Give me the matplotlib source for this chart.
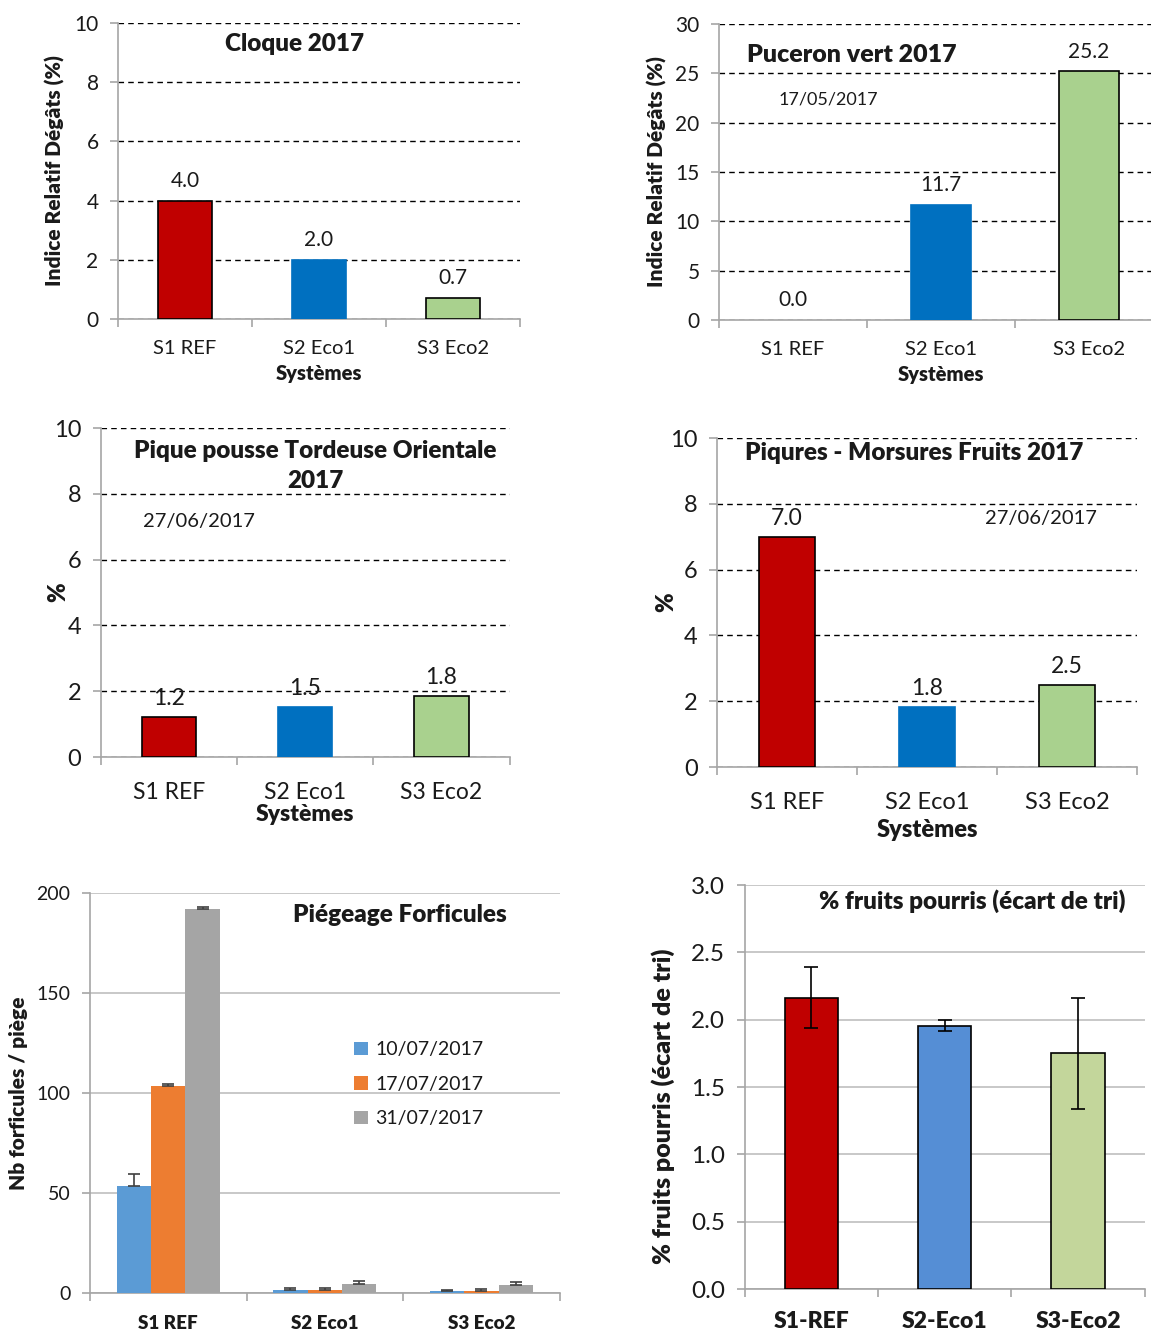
import numpy as np
import matplotlib.pyplot as plt

plt.rcParams['font.family'] = ['Lato', 'DejaVu Sans']

# --- data ---
systemes = ['S1 REF', 'S2 Eco1', 'S3 Eco2']
systemes_tirets = ['S1-REF', 'S2-Eco1', 'S3-Eco2']

cloque = [4.0, 2.0, 0.71]
puceron = [0.0, 11.7, 25.2]
pique_pousse = [1.22, 1.52, 1.84]
morsures = [6.99, 1.82, 2.49]

dates_forf = ['10/07/2017', '17/07/2017', '31/07/2017']
forf_10 = [53.5, 1.5, 1.0]
forf_10_err = [6.0, 1.0, 0.5]
forf_17 = [103.5, 1.5, 1.0]
forf_17_err = [1.0, 1.0, 1.0]
forf_31 = [192.0, 4.5, 4.0]
forf_31_err = [1.0, 1.5, 1.5]

pourris = [2.165, 1.955, 1.75]
pourris_err = [0.225, 0.04, 0.41]

rouge = '#C00000'
bleu = '#0070C0'
vert = '#A9D18E'
gris_axe = '#A6A6A6'
txt = '#1a1a1a'
GRAS = 'heavy'

fig = plt.figure(figsize=(11.51, 13.33), dpi=100)


def style_axes(ax, ymax, ystep, ytick_fs, xtick_fs, xpad, dashed=True):
    ax.set_xlim(-0.5, 2.5)
    ax.set_ylim(0, ymax)
    ax.set_yticks(np.arange(0, ymax + ystep / 2, ystep))
    for s in ['top', 'right']:
        ax.spines[s].set_visible(False)
    for s in ['left', 'bottom']:
        ax.spines[s].set_color(gris_axe)
        ax.spines[s].set_linewidth(1.2)
    ax.set_xticks([-0.5, 0.5, 1.5, 2.5])
    ax.set_xticklabels([])
    ax.set_xticks([0, 1, 2], minor=True)
    ax.tick_params(axis='x', which='major', length=6, color=gris_axe, width=1.2)
    ax.tick_params(axis='x', which='minor', length=0, labelsize=xtick_fs, colors=txt, pad=xpad)
    ax.tick_params(axis='y', length=6, color=gris_axe, width=1.2, labelsize=ytick_fs,
                   labelcolor=txt, pad=8)
    if dashed:
        ax.yaxis.grid(True, color='black', linestyle=(0, (4, 3)), linewidth=1.0)
    else:
        ax.yaxis.grid(True, color='#BFBFBF', linestyle='-', linewidth=1.2)
    ax.set_axisbelow(True)
    ax.patch.set_visible(False)


def value_labels(ax, vals, fs, off):
    for i, v in enumerate(vals):
        ax.annotate(f'{v:.1f}', (i, v), xytext=(0, off), textcoords='offset points',
                    ha='center', va='bottom', fontsize=fs, color=txt)


def ylabel_at(ax, text, fs, xpos, ypos=0.5):
    ax.set_ylabel(text, fontsize=fs, fontweight=GRAS, color=txt)
    ax.yaxis.label.set_va('center')
    ax.yaxis.set_label_coords(xpos, ypos)


cols3 = [rouge, bleu, vert]
edges3 = ['black', bleu, 'black']

# --- Cloque ---
ax1 = fig.add_axes([0.1025, 0.7607, 0.349, 0.222])
style_axes(ax1, 10, 2, 15, 14.5, 15)
ax1.bar(range(3), cloque, width=0.40, color=cols3, edgecolor=edges3, linewidth=1.2, zorder=3)
ax1.set_xticklabels(systemes, minor=True)
value_labels(ax1, cloque, 15, 7)
ax1.set_xlabel('Systèmes', fontsize=14.5, fontweight=GRAS, color=txt, labelpad=5)
ylabel_at(ax1, 'Indice Relatif Dégâts (%)', 15, -0.157)
ax1.text(0.44, 0.93, 'Cloque 2017', transform=ax1.transAxes, ha='center', va='center',
         fontsize=17.5, fontweight=GRAS, color=txt)

# --- Puceron vert ---
ax2 = fig.add_axes([0.6247, 0.76, 0.3857, 0.222])
style_axes(ax2, 30, 5, 15, 14.5, 15)
ax2.bar(range(3), puceron, width=0.41, color=cols3, edgecolor=edges3,
        linewidth=[1.2 if v > 0 else 0 for v in puceron], zorder=3)
ax2.set_xticklabels(systemes, minor=True)
value_labels(ax2, puceron, 15, 7)
ax2.set_xlabel('Systèmes', fontsize=14.5, fontweight=GRAS, color=txt, labelpad=5)
ylabel_at(ax2, 'Indice Relatif Dégâts (%)', 15, -0.14)
ax2.text(0.30, 0.895, 'Puceron vert 2017', transform=ax2.transAxes, ha='center', va='center',
         fontsize=18, fontweight=GRAS, color=txt)
ax2.text(0.246, 0.746, '17/05/2017', transform=ax2.transAxes, ha='center', va='center',
         fontsize=13, color=txt)

# --- Pique pousse ---
ax3 = fig.add_axes([0.0877, 0.4321, 0.355, 0.2468])
style_axes(ax3, 10, 2, 17, 16.5, 18)
ax3.bar(range(3), pique_pousse, width=0.40, color=cols3, edgecolor=edges3, linewidth=1.2, zorder=3)
ax3.set_xticklabels(systemes, minor=True)
value_labels(ax3, pique_pousse, 16.5, 6)
ax3.set_xlabel('Systèmes', fontsize=16.5, fontweight=GRAS, color=txt, labelpad=1)
ylabel_at(ax3, '%', 17, -0.105)
ax3.text(0.525, 0.963, 'Pique pousse Tordeuse Orientale\n2017', transform=ax3.transAxes,
         ha='center', va='top', fontsize=17.5, fontweight=GRAS, color=txt, linespacing=1.45)
ax3.text(0.24, 0.715, '27/06/2017', transform=ax3.transAxes, ha='center', va='center',
         fontsize=14.5, color=txt)

# --- Piqures - Morsures ---
ax4 = fig.add_axes([0.623, 0.4246, 0.365, 0.2468])
style_axes(ax4, 10, 2, 17, 17, 18)
ax4.bar(range(3), morsures, width=0.40, color=cols3, edgecolor=edges3, linewidth=1.2, zorder=3)
ax4.set_xticklabels(systemes, minor=True)
value_labels(ax4, morsures, 16.5, 6)
ax4.set_xlabel('Systèmes', fontsize=17, fontweight=GRAS, color=txt, labelpad=4)
ylabel_at(ax4, '%', 17, -0.122)
ax4.text(0.47, 0.955, 'Piqures - Morsures Fruits 2017', transform=ax4.transAxes,
         ha='center', va='center', fontsize=17.5, fontweight=GRAS, color=txt)
ax4.text(0.77, 0.755, '27/06/2017', transform=ax4.transAxes, ha='center', va='center',
         fontsize=14.5, color=txt)

# --- Piegeage Forficules ---
ax5 = fig.add_axes([0.0782, 0.030, 0.408, 0.300])
style_axes(ax5, 200, 50, 14, 13.5, 16, dashed=False)
w = 0.22
x = np.arange(3)
series = [(forf_10, forf_10_err, '#5B9BD5'), (forf_17, forf_17_err, '#ED7D31'),
          (forf_31, forf_31_err, '#A5A5A5')]
for k, (vals, err, c) in enumerate(series):
    ax5.bar(x + (k - 1) * w, vals, width=w, color=c, label=dates_forf[k], zorder=3,
            yerr=[np.zeros(3), err], capsize=4,
            error_kw=dict(ecolor='#404040', elinewidth=1.2, capthick=1.2, zorder=4))
ax5.set_xticklabels(systemes, minor=True, fontweight=GRAS)
ylabel_at(ax5, 'Nb forficules / piège', 15, -0.153)
ax5.text(0.66, 0.945, 'Piégeage Forficules', transform=ax5.transAxes, ha='center',
         va='center', fontsize=17.5, fontweight=GRAS, color=txt)
ax5.legend(loc='upper left', bbox_to_anchor=(0.525, 0.673), frameon=False, fontsize=14,
           handlelength=0.7, handleheight=0.7, handletextpad=0.4, labelspacing=0.9,
           labelcolor=txt)

# --- fruits pourris ---
ax6 = fig.add_axes([0.647, 0.033, 0.3475, 0.303])
style_axes(ax6, 3.0, 0.5, 17.5, 16.5, 16, dashed=False)
ax6.yaxis.set_major_formatter(plt.FormatStrFormatter('%.1f'))
ax6.bar(x, pourris, width=0.40, color=[rouge, '#558ED5', '#C3D69B'], edgecolor='black',
        linewidth=1.2, zorder=3, yerr=pourris_err, capsize=5,
        error_kw=dict(ecolor='black', elinewidth=1.2, capthick=1.2, zorder=4))
ax6.set_xticklabels(systemes_tirets, minor=True, fontweight=GRAS)
ylabel_at(ax6, '% fruits pourris (écart de tri)', 18, -0.205, 0.453)
ax6.text(0.57, 0.96, '% fruits pourris (écart de tri)', transform=ax6.transAxes,
         ha='center', va='center', fontsize=17.5, fontweight=GRAS, color=txt)

fig.savefig('out.png', dpi=100)
